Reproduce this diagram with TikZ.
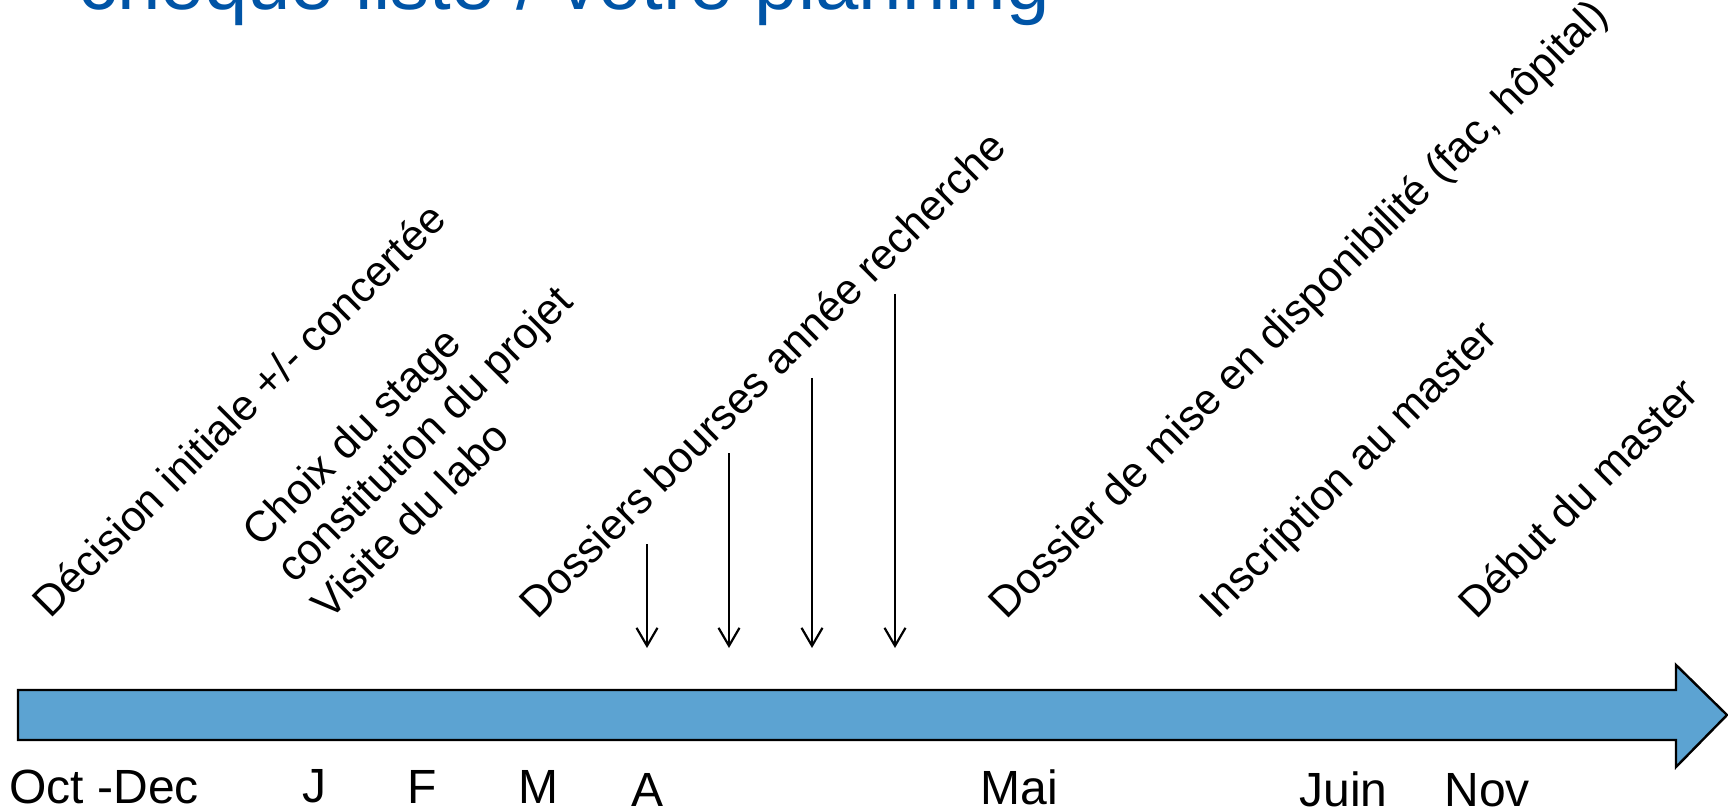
\documentclass[tikz,border=0pt]{standalone}
\usepackage{fontspec}
\setmainfont{Liberation Sans}
\usepackage{tikz}
\usetikzlibrary{arrows.meta}
\definecolor{titleblue}{RGB}{0,84,166}
\definecolor{bandblue}{RGB}{92,163,210}
\tikzset{
  lbl/.style={rotate=45, anchor=base west, inner sep=0pt, font=\fontsize{21.5}{26}\selectfont},
  month/.style={anchor=base west, inner sep=0pt, font=\fontsize{24}{28}\selectfont},
  drop/.style={-{Straight Barb[length=9pt,width=10.5pt]}, line width=1.1pt}
}
\begin{document}
\begin{tikzpicture}[x=0.5pt,y=0.5pt]
\useasboundingbox (0,0) rectangle (1728,-812);
% titre (coupe en haut)
\node[anchor=base west, inner sep=0pt, text=titleblue, font=\fontsize{39}{46}\selectfont] (title) at (78,-10) {cheque liste / votre planning};
% bande du temps
\draw[line width=1.2pt, fill=bandblue] (18,-690) -- (1676,-690) -- (1676,-665) -- (1727,-715) -- (1676,-767) -- (1676,-740) -- (18,-740) -- cycle;
% mois
\node[month] (oct) at (9,-803) {Oct -Dec};
\node[month] (jan) at (302,-802) {J};
\node[month] (feb) at (407,-803) {F};
\node[month] (mar) at (518,-803) {M};
\node[month] (apr) at (631,-806) {A};
\node[month] (may) at (980,-804) {Mai};
\node[month] (jun) at (1299,-806) {Juin};
\node[month] (nov) at (1444,-806) {Nov};
% etapes
\node[lbl] (decision) at (50,-620) {Décision initiale +/- concertée};
\node[lbl] (choix) at (260,-549) {Choix du stage};
\node[lbl] (projet) at (294,-585) {constitution du projet};
\node[lbl] (visite) at (329,-622) {Visite du labo};
\node[lbl] (bourses) at (537,-621) {Dossiers bourses année recherche};
\node[lbl] (dispo) at (1006,-621) {Dossier de mise en disponibilité (fac, hôpital)};
\node[lbl] (inscr) at (1217,-621) {Inscription au master};
\node[lbl] (debut) at (1476,-621) {Début du master};
% fleches des bourses
\coordinate (b1) at (647,-544); \coordinate (e1) at (647,-648);
\coordinate (b2) at (729,-453); \coordinate (e2) at (729,-648);
\coordinate (b3) at (812,-378); \coordinate (e3) at (812,-648);
\coordinate (b4) at (895,-294); \coordinate (e4) at (895,-648);
\draw[drop] (b1) -- (e1);
\draw[drop] (b2) -- (e2);
\draw[drop] (b3) -- (e3);
\draw[drop] (b4) -- (e4);
\end{tikzpicture}
\end{document}
